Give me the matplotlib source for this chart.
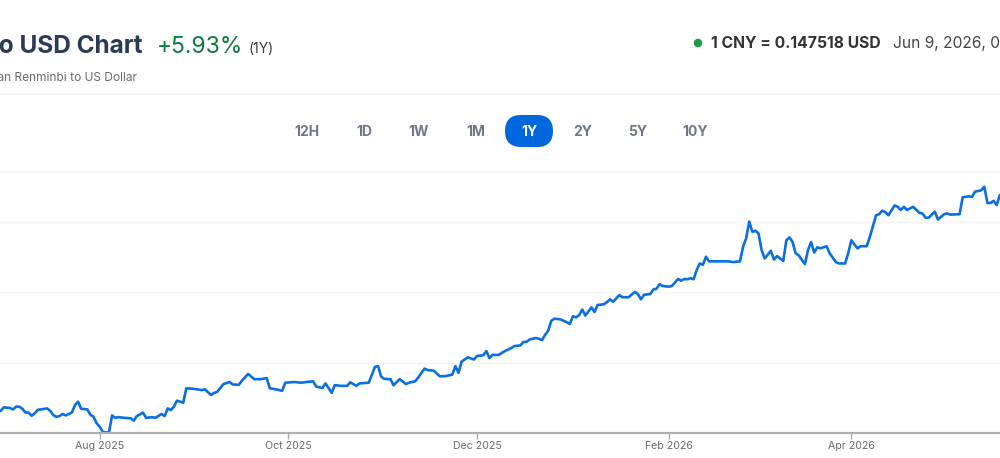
import matplotlib
matplotlib.use("Agg")
import matplotlib.pyplot as plt
import matplotlib.dates as mdates
from matplotlib.patches import FancyBboxPatch, Circle
from matplotlib.transforms import IdentityTransform
import pandas as pd

plt.rcParams['font.family'] = ['Inter', 'DejaVu Sans']

W, H = 1000, 458

# CNY -> USD daily rate
dates = [
    "2025-06-29", "2025-06-30", "2025-07-01", "2025-07-03", "2025-07-04", "2025-07-05",
    "2025-07-06", "2025-07-07", "2025-07-08", "2025-07-09", "2025-07-10", "2025-07-11",
    "2025-07-12", "2025-07-13", "2025-07-15", "2025-07-16", "2025-07-17", "2025-07-18",
    "2025-07-19", "2025-07-20", "2025-07-21", "2025-07-22", "2025-07-23", "2025-07-24",
    "2025-07-25", "2025-07-26", "2025-07-28", "2025-07-29", "2025-07-30", "2025-07-31",
    "2025-08-01", "2025-08-02", "2025-08-04", "2025-08-05", "2025-08-06", "2025-08-07",
    "2025-08-09", "2025-08-11", "2025-08-12", "2025-08-13", "2025-08-15", "2025-08-16",
    "2025-08-18", "2025-08-19", "2025-08-21", "2025-08-22", "2025-08-23", "2025-08-24",
    "2025-08-25", "2025-08-26", "2025-08-28", "2025-08-29", "2025-08-31", "2025-09-03",
    "2025-09-04", "2025-09-06", "2025-09-07", "2025-09-08", "2025-09-10", "2025-09-12",
    "2025-09-13", "2025-09-15", "2025-09-16", "2025-09-18", "2025-09-19", "2025-09-20",
    "2025-09-22", "2025-09-24", "2025-09-25", "2025-09-27", "2025-09-29", "2025-09-30",
    "2025-10-03", "2025-10-05", "2025-10-09", "2025-10-10", "2025-10-12", "2025-10-13",
    "2025-10-15", "2025-10-16", "2025-10-18", "2025-10-20", "2025-10-21", "2025-10-23",
    "2025-10-24", "2025-10-27", "2025-10-29", "2025-10-30", "2025-10-31", "2025-11-01",
    "2025-11-03", "2025-11-04", "2025-11-06", "2025-11-08", "2025-11-09", "2025-11-11",
    "2025-11-12", "2025-11-14", "2025-11-15", "2025-11-17", "2025-11-19", "2025-11-21",
    "2025-11-23", "2025-11-24", "2025-11-25", "2025-11-26", "2025-11-28", "2025-11-30",
    "2025-12-01", "2025-12-03", "2025-12-04", "2025-12-05", "2025-12-06", "2025-12-08",
    "2025-12-10", "2025-12-12", "2025-12-13", "2025-12-15", "2025-12-16", "2025-12-17",
    "2025-12-18", "2025-12-20", "2025-12-21", "2025-12-22", "2025-12-23", "2025-12-24",
    "2025-12-25", "2025-12-26", "2025-12-28", "2025-12-30", "2025-12-31", "2026-01-01",
    "2026-01-02", "2026-01-03", "2026-01-04", "2026-01-05", "2026-01-07", "2026-01-08",
    "2026-01-09", "2026-01-11", "2026-01-12", "2026-01-13", "2026-01-14", "2026-01-16",
    "2026-01-17", "2026-01-19", "2026-01-21", "2026-01-22", "2026-01-23", "2026-01-24",
    "2026-01-26", "2026-01-27", "2026-01-28", "2026-01-29", "2026-01-30", "2026-02-01",
    "2026-02-02", "2026-02-04", "2026-02-05", "2026-02-06", "2026-02-07", "2026-02-08",
    "2026-02-09", "2026-02-10", "2026-02-11", "2026-02-12", "2026-02-13", "2026-02-14",
    "2026-02-16", "2026-02-20", "2026-02-22", "2026-02-24", "2026-02-25", "2026-02-26",
    "2026-02-27", "2026-02-28", "2026-03-01", "2026-03-02", "2026-03-03", "2026-03-04",
    "2026-03-06", "2026-03-07", "2026-03-08", "2026-03-10", "2026-03-11", "2026-03-12",
    "2026-03-13", "2026-03-14", "2026-03-15", "2026-03-17", "2026-03-18", "2026-03-19",
    "2026-03-20", "2026-03-21", "2026-03-22", "2026-03-24", "2026-03-25", "2026-03-27",
    "2026-03-28", "2026-03-30", "2026-03-31", "2026-04-01", "2026-04-03", "2026-04-04",
    "2026-04-06", "2026-04-07", "2026-04-09", "2026-04-10", "2026-04-11", "2026-04-12",
    "2026-04-13", "2026-04-15", "2026-04-16", "2026-04-17", "2026-04-18", "2026-04-19",
    "2026-04-21", "2026-04-23", "2026-04-24", "2026-04-25", "2026-04-26", "2026-04-28",
    "2026-04-29", "2026-05-01", "2026-05-02", "2026-05-03", "2026-05-06", "2026-05-07",
    "2026-05-09", "2026-05-10", "2026-05-11", "2026-05-13", "2026-05-14", "2026-05-15",
    "2026-05-16", "2026-05-17", "2026-05-18", "2026-05-19", "2026-05-20",
]
rates = [
    0.13860, 0.13863, 0.13873, 0.13871, 0.13867, 0.13875,
    0.13875, 0.13869, 0.13858, 0.13858, 0.13849, 0.13856,
    0.13866, 0.13867, 0.13870, 0.13863, 0.13851, 0.13846,
    0.13848, 0.13854, 0.13850, 0.13854, 0.13858, 0.13879,
    0.13889, 0.13869, 0.13867, 0.13852, 0.13846, 0.13828,
    0.13818, 0.13803, 0.13801, 0.13850, 0.13843, 0.13845,
    0.13843, 0.13842, 0.13835, 0.13848, 0.13858, 0.13843,
    0.13845, 0.13843, 0.13854, 0.13848, 0.13870, 0.13865,
    0.13875, 0.13892, 0.13886, 0.13927, 0.13926, 0.13922,
    0.13924, 0.13908, 0.13914, 0.13917, 0.13939, 0.13945,
    0.13938, 0.13937, 0.13949, 0.13968, 0.13960, 0.13953,
    0.13953, 0.13956, 0.13927, 0.13924, 0.13920, 0.13943,
    0.13945, 0.13943, 0.13947, 0.13932, 0.13928, 0.13941,
    0.13914, 0.13936, 0.13934, 0.13934, 0.13944, 0.13934,
    0.13941, 0.13943, 0.13988, 0.13990, 0.13960, 0.13954,
    0.13953, 0.13936, 0.13953, 0.13939, 0.13943, 0.13947,
    0.13958, 0.13983, 0.13979, 0.13977, 0.13961, 0.13962,
    0.13966, 0.13990, 0.13971, 0.14003, 0.14015, 0.14009,
    0.14019, 0.14021, 0.14033, 0.14013, 0.14022, 0.14022,
    0.14033, 0.14041, 0.14047, 0.14049, 0.14059, 0.14059,
    0.14066, 0.14070, 0.14068, 0.14064, 0.14079, 0.14091,
    0.14119, 0.14125, 0.14123, 0.14115, 0.14110, 0.14132,
    0.14129, 0.14135, 0.14151, 0.14134, 0.14157, 0.14144,
    0.14164, 0.14166, 0.14172, 0.14180, 0.14173, 0.14192,
    0.14186, 0.14186, 0.14201, 0.14195, 0.14180, 0.14193,
    0.14195, 0.14208, 0.14210, 0.14223, 0.14218, 0.14216,
    0.14218, 0.14238, 0.14233, 0.14238, 0.14237, 0.14240,
    0.14237, 0.14263, 0.14282, 0.14278, 0.14301, 0.14288,
    0.14288, 0.14288, 0.14286, 0.14288, 0.14329, 0.14354,
    0.14401, 0.14372, 0.14375, 0.14367, 0.14320, 0.14296,
    0.14318, 0.14293, 0.14303, 0.14289, 0.14348, 0.14356,
    0.14343, 0.14311, 0.14305, 0.14280, 0.14320, 0.14343,
    0.14313, 0.14328, 0.14325, 0.14331, 0.14311, 0.14286,
    0.14282, 0.14282, 0.14311, 0.14348, 0.14325, 0.14331,
    0.14331, 0.14358, 0.14419, 0.14422, 0.14432, 0.14428,
    0.14419, 0.14447, 0.14443, 0.14434, 0.14443, 0.14434,
    0.14443, 0.14426, 0.14424, 0.14412, 0.14412, 0.14429,
    0.14407, 0.14422, 0.14424, 0.14421, 0.14422, 0.14470,
    0.14473, 0.14471, 0.14486, 0.14490, 0.14500, 0.14454,
    0.14454, 0.14460, 0.14448, 0.14476, 0.14479,
]

tick_dates = ["2025-08-01", "2025-10-01", "2025-12-01", "2026-02-01", "2026-04-01"]
grid_values = [0.140, 0.142, 0.144]
ranges = ["12H", "1D", "1W", "1M", "1Y", "2Y", "5Y", "10Y"]
range_x = [307, 364, 419, 476, 529, 583, 638, 695]
active_range = "1Y"

LINE_BLUE = "#0a6fe0"
NAVY = "#2b3a55"
GREEN = "#0b7a3b"


def px(x, y):
    # pixel position (from top-left) -> figure fraction
    return x / W, 1 - y / H


fig = plt.figure(figsize=(W / 100, H / 100), dpi=100)
fig.patch.set_facecolor("white")

# chart area: bottom axis at y=433 px, top separator at y=172 px
ax = fig.add_axes([0, 25 / H, 1, 261 / H])
x = pd.to_datetime(dates)
ax.plot(x, rates, color=LINE_BLUE, lw=1.9, solid_joinstyle="round")

aug1 = pd.Timestamp("2025-08-01")
ax.set_xlim(aug1 - pd.Timedelta(days=32.23), aug1 + pd.Timedelta(days=291.07))
ax.set_ylim(0.138, 0.14542)

ax.set_yticks(grid_values)
ax.yaxis.grid(True, color="#f3f3f3", lw=1)
ax.tick_params(axis="y", left=False, labelleft=False)
ax.set_xticks(pd.to_datetime(tick_dates))
ax.xaxis.set_major_formatter(mdates.DateFormatter("%b %Y"))
ax.tick_params(axis="x", colors="#a8a8a8", length=4, width=1, pad=2,
               labelsize=7.6, labelcolor="#6a6a6a")
for side in ["top", "left", "right"]:
    ax.spines[side].set_visible(False)
ax.spines["bottom"].set_color("#b0b0b0")
ax.spines["bottom"].set_linewidth(1.6)
ax.set_axisbelow(True)

# separators
for yy in [94, 172]:
    fig.add_artist(plt.Line2D([0, 1], [1 - yy / H] * 2, color="#f2f2f2", lw=1.2,
                              transform=fig.transFigure))

# header
fig.text(*px(143, 53), "CNY to USD Chart", ha="right", va="baseline",
         fontsize=17.5, fontweight="bold", color=NAVY)
fig.text(*px(157, 53), "+5.93%", ha="left", va="baseline",
         fontsize=16.5, color=GREEN)
fig.text(*px(249, 53), "(1Y)", ha="left", va="baseline",
         fontsize=10, color="#3a3a3a")
fig.text(*px(137, 81), "Chinese Yuan Renminbi to US Dollar", ha="right", va="baseline",
         fontsize=8.6, color="#6b6b6b")

fig.add_artist(Circle((698, H - 43), 3.6, color="#1f9d4a", transform=IdentityTransform()))
fig.text(*px(711, 48), "1 CNY = 0.147518 USD", ha="left", va="baseline",
         fontsize=11.3, fontweight="bold", color="#333333")
fig.text(*px(893, 48), "Jun 9, 2026, 02:00 UTC", ha="left", va="baseline",
         fontsize=11.2, color="#444444")

# range buttons
for label, cx in zip(ranges, range_x):
    if label == active_range:
        pill = FancyBboxPatch((505, H - 147), 48, 32,
                              boxstyle="round,pad=0,rounding_size=16",
                              fc="#0067dd", ec="none", transform=IdentityTransform())
        fig.add_artist(pill)
        col = "white"
    else:
        col = "#6e7787"
    fig.text(*px(cx, 131.5), label, ha="center", va="center",
             fontsize=10, fontweight="bold", color=col)

fig.savefig("out.png", dpi=100, facecolor="white")
